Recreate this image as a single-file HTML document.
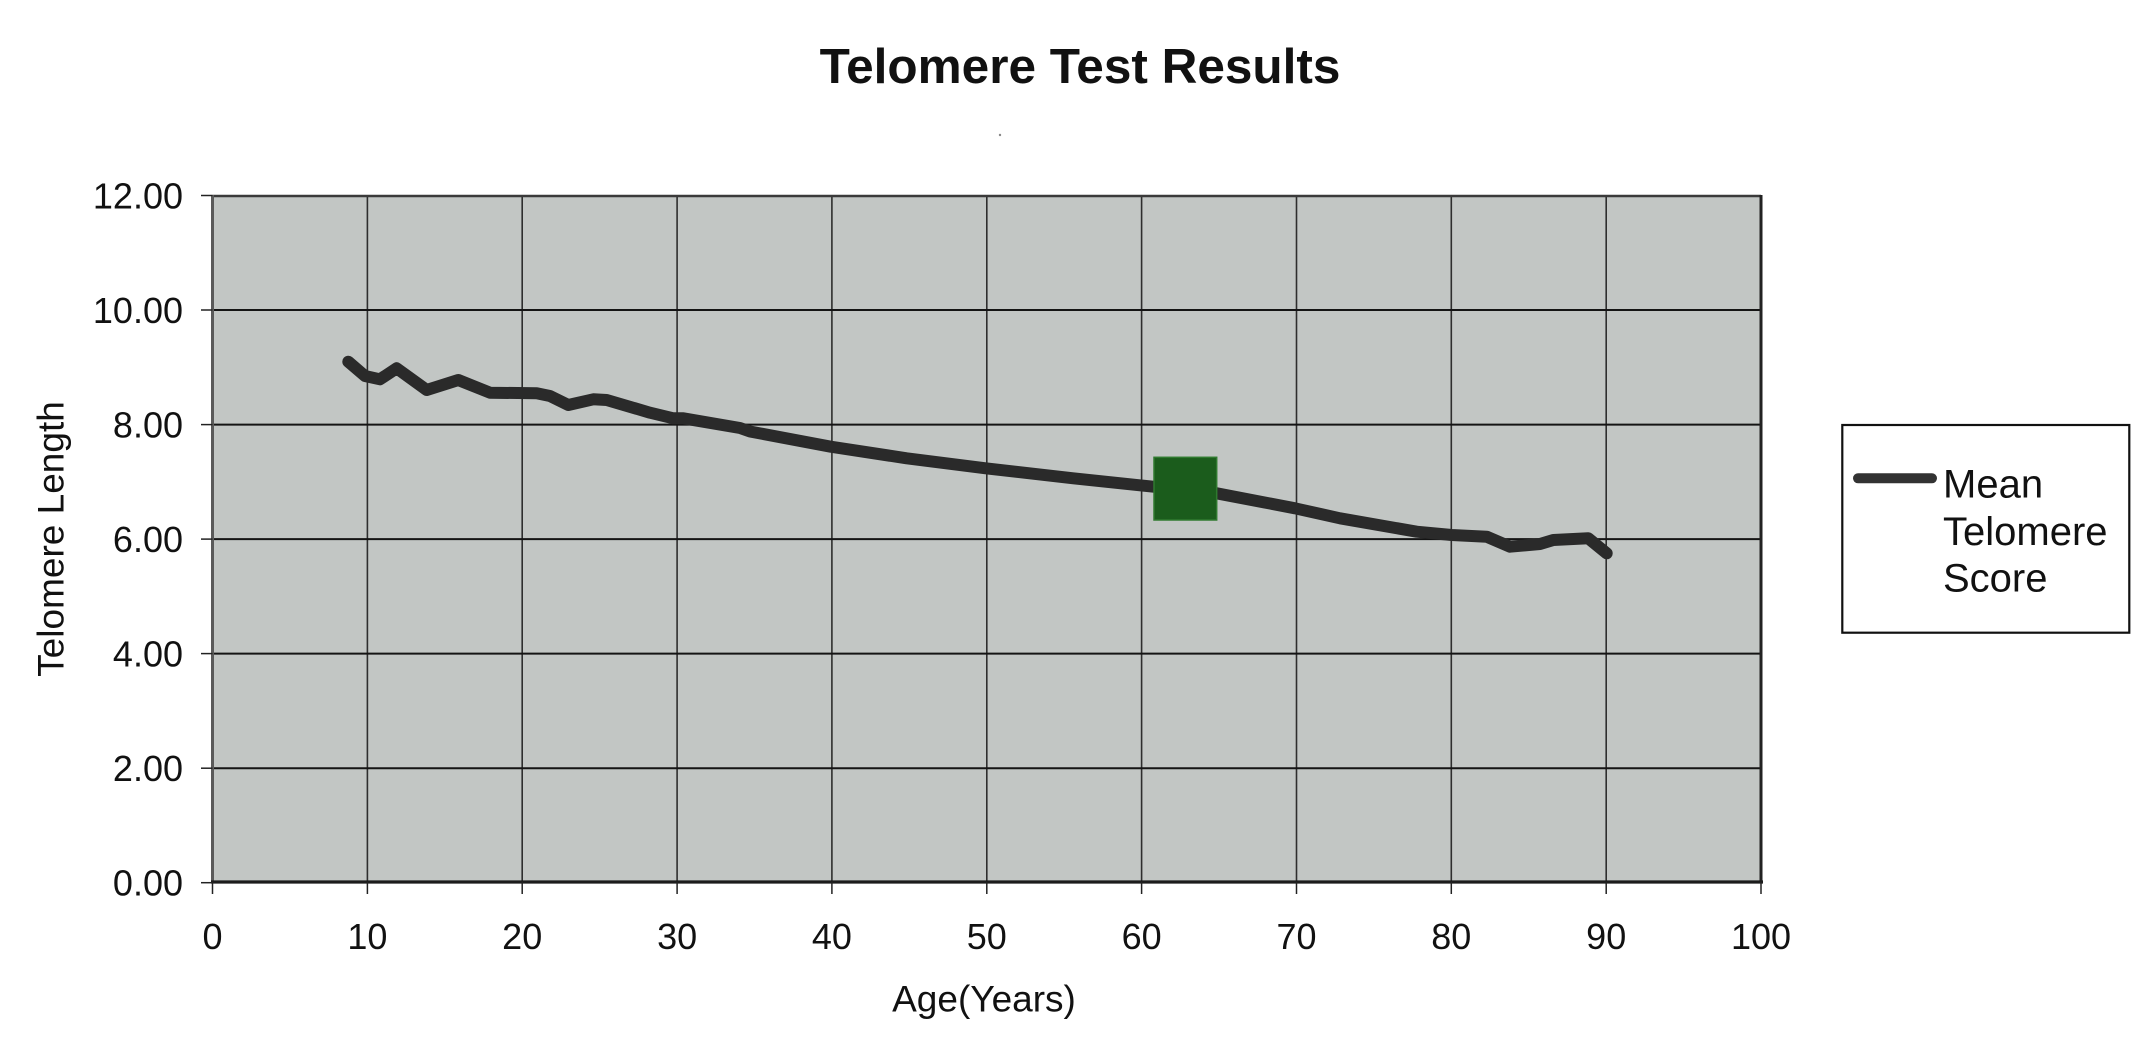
<!DOCTYPE html>
<html>
<head>
<meta charset="utf-8">
<style>
  html, body { margin: 0; padding: 0; background: #ffffff; }
  body { width: 2135px; height: 1050px; overflow: hidden; }
  svg { display: block; }
  text { font-family: "Liberation Sans", Arial, sans-serif; fill: #111; }
</style>
</head>
<body>
<svg width="2135" height="1050" viewBox="0 0 2135 1050" xmlns="http://www.w3.org/2000/svg">
  <rect x="0" y="0" width="2135" height="1050" fill="#ffffff"/>

  <!-- Title -->
  <text x="1080" y="83" text-anchor="middle" font-size="49.5" font-weight="bold" fill="#1a1a1a">Telomere Test Results</text>
  <circle cx="1000" cy="135" r="1.2" fill="#888"/>

  <!-- Plot area -->
  <rect x="212.5" y="195.5" width="1548.5" height="687.2" fill="#c2c6c4"/>

  <!-- Vertical gridlines -->
  <g stroke="#2e2e2e" stroke-width="1.6">
    <line x1="367.4" y1="195.5" x2="367.4" y2="882.7"/>
    <line x1="522.2" y1="195.5" x2="522.2" y2="882.7"/>
    <line x1="677.1" y1="195.5" x2="677.1" y2="882.7"/>
    <line x1="831.9" y1="195.5" x2="831.9" y2="882.7"/>
    <line x1="986.8" y1="195.5" x2="986.8" y2="882.7"/>
    <line x1="1141.6" y1="195.5" x2="1141.6" y2="882.7"/>
    <line x1="1296.5" y1="195.5" x2="1296.5" y2="882.7"/>
    <line x1="1451.3" y1="195.5" x2="1451.3" y2="882.7"/>
    <line x1="1606.2" y1="195.5" x2="1606.2" y2="882.7"/>
  </g>
  <!-- Horizontal gridlines -->
  <g stroke="#141414" stroke-width="2">
    <line x1="212.5" y1="310.0" x2="1761" y2="310.0"/>
    <line x1="212.5" y1="424.6" x2="1761" y2="424.6"/>
    <line x1="212.5" y1="539.1" x2="1761" y2="539.1"/>
    <line x1="212.5" y1="653.6" x2="1761" y2="653.6"/>
    <line x1="212.5" y1="768.2" x2="1761" y2="768.2"/>
  </g>

  <!-- Plot border -->
  <line x1="212.5" y1="196" x2="1761" y2="196" stroke="#3a3a3a" stroke-width="2.5"/>
  <line x1="1761" y1="195" x2="1761" y2="883" stroke="#222" stroke-width="3"/>
  <line x1="212.5" y1="195" x2="212.5" y2="883" stroke="#5a5a5a" stroke-width="3"/>
  <line x1="211" y1="882" x2="1763" y2="882" stroke="#1c1c1c" stroke-width="3.2"/>

  <!-- Y ticks -->
  <g stroke="#222" stroke-width="1.5">
    <line x1="201" y1="195.5" x2="212.5" y2="195.5"/>
    <line x1="201" y1="310.0" x2="212.5" y2="310.0"/>
    <line x1="201" y1="424.6" x2="212.5" y2="424.6"/>
    <line x1="201" y1="539.1" x2="212.5" y2="539.1"/>
    <line x1="201" y1="653.6" x2="212.5" y2="653.6"/>
    <line x1="201" y1="768.2" x2="212.5" y2="768.2"/>
    <line x1="201" y1="882.7" x2="212.5" y2="882.7"/>
  </g>
  <!-- X ticks -->
  <g stroke="#222" stroke-width="1.5">
    <line x1="212.5" y1="882" x2="212.5" y2="894"/>
    <line x1="367.4" y1="882" x2="367.4" y2="894"/>
    <line x1="522.2" y1="882" x2="522.2" y2="894"/>
    <line x1="677.1" y1="882" x2="677.1" y2="894"/>
    <line x1="831.9" y1="882" x2="831.9" y2="894"/>
    <line x1="986.8" y1="882" x2="986.8" y2="894"/>
    <line x1="1141.6" y1="882" x2="1141.6" y2="894"/>
    <line x1="1296.5" y1="882" x2="1296.5" y2="894"/>
    <line x1="1451.3" y1="882" x2="1451.3" y2="894"/>
    <line x1="1606.2" y1="882" x2="1606.2" y2="894"/>
    <line x1="1761" y1="882" x2="1761" y2="894"/>
  </g>

  <!-- Y tick labels -->
  <g font-size="36" text-anchor="end">
    <text x="183" y="208.5">12.00</text>
    <text x="183" y="323.0">10.00</text>
    <text x="183" y="437.6">8.00</text>
    <text x="183" y="552.1">6.00</text>
    <text x="183" y="666.6">4.00</text>
    <text x="183" y="781.2">2.00</text>
    <text x="183" y="895.7">0.00</text>
  </g>

  <!-- X tick labels -->
  <g font-size="36" text-anchor="middle">
    <text x="212.5" y="949">0</text>
    <text x="367.4" y="949">10</text>
    <text x="522.2" y="949">20</text>
    <text x="677.1" y="949">30</text>
    <text x="831.9" y="949">40</text>
    <text x="986.8" y="949">50</text>
    <text x="1141.6" y="949">60</text>
    <text x="1296.5" y="949">70</text>
    <text x="1451.3" y="949">80</text>
    <text x="1606.2" y="949">90</text>
    <text x="1761" y="949">100</text>
  </g>

  <!-- Axis titles -->
  <text x="984" y="1011.5" font-size="37" text-anchor="middle">Age(Years)</text>
  <text transform="translate(63.5,539) rotate(-90)" font-size="37" text-anchor="middle">Telomere Length</text>

  <!-- Data series -->
  <polyline fill="none" stroke="#2a2a2a" stroke-width="12" stroke-linejoin="round" stroke-linecap="round"
    points="348.3,361.7 365,376 380,379.3 396.7,368.3 426.7,390 458.3,380 490,392.7 536.7,393.3 550,396 568.3,405 593.3,399.3 606.7,400 650,412.7 673.3,418.3 683.3,418.3 740,428 750,431.5 830.7,446.7 906.7,458.3 985.7,468.3 1073.3,478.3 1153.3,486.7 1216.7,493.3 1295,508.3 1340,518.3 1416.7,531.7 1451.7,535 1486.7,536.7 1510,546.7 1540,544 1553.3,540 1588.3,538.3 1606.7,553.3"/>

  <!-- Green marker -->
  <rect x="1154" y="457.3" width="62.7" height="62.7" fill="#1b5c1c" stroke="#2f7a2f" stroke-width="1.5"/>

  <!-- Legend -->
  <rect x="1842.3" y="425" width="287" height="207.7" fill="#ffffff" stroke="#111" stroke-width="2.2"/>
  <line x1="1858" y1="478.3" x2="1932" y2="478.3" stroke="#333" stroke-width="10" stroke-linecap="round"/>
  <g font-size="40">
    <text x="1943" y="497.3">Mean</text>
    <text x="1943" y="545">Telomere</text>
    <text x="1943" y="591.7">Score</text>
  </g>
</svg>
</body>
</html>
